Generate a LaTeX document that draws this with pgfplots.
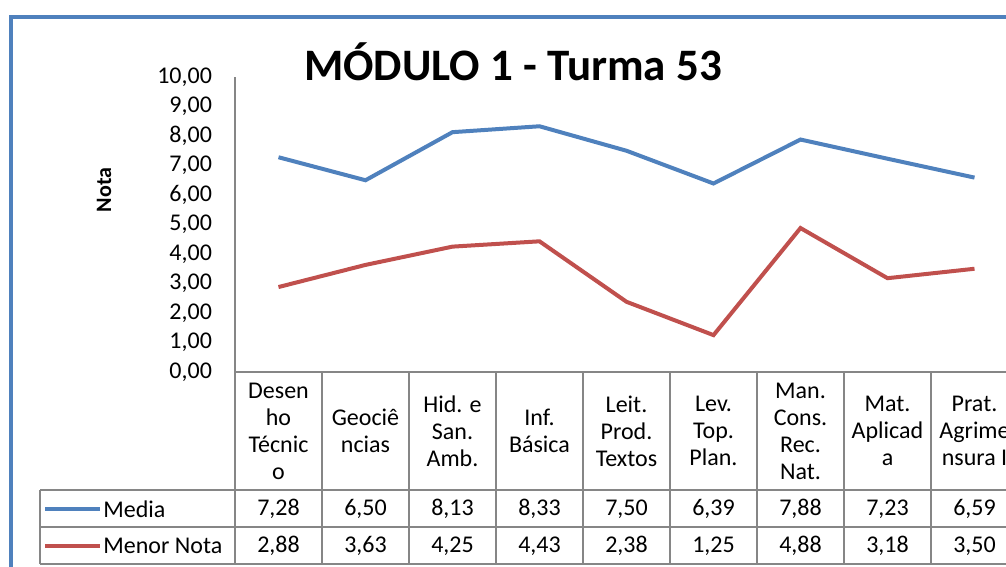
\documentclass[border=0pt]{standalone}
\usepackage{pgfplots}
\pgfplotsset{compat=1.18}
\usepackage{fontspec}
\setmainfont{Carlito}
\definecolor{xblue}{RGB}{79,129,189}
\definecolor{xred}{RGB}{192,80,77}
\definecolor{xgray}{RGB}{134,134,134}
\pgfplotstableread{
x media menor
0 7.28 2.88
1 6.50 3.63
2 8.13 4.25
3 8.33 4.43
4 7.50 2.38
5 6.39 1.25
6 7.88 4.88
7 7.23 3.18
8 6.59 3.50
}\datatab
\begin{document}
\begin{tikzpicture}[x=0.5pt,y=-0.5pt]
\useasboundingbox (0,0) rectangle (1006,567);
\clip (0,0) rectangle (1006,567);
\draw[xblue, line width=2pt] (11,600) -- (11,17) -- (1030,17);
\node[font=\fontsize{22.5}{26}\selectfont\bfseries] at (513,62) {MÓDULO 1 - Turma 53};
\node[font=\fontsize{11}{13}\selectfont\bfseries, rotate=90] at (104,190) {Nota};
\begin{axis}[
  at={(117.5pt,-186pt)}, anchor=south west,
  scale only axis, width=391.5pt, height=147.5pt,
  xmin=-0.5, xmax=8.5, ymin=0, ymax=10,
  axis x line*=bottom, axis y line*=left,
  axis line style={xgray, line width=0.8pt},
  xtick=\empty, ytick={0,1,...,10},
  major tick length=0pt,
  yticklabel style={font=\fontsize{12}{14}\selectfont, xshift=-8pt,
    /pgf/number format/.cd, fixed, fixed zerofill, precision=2, use comma, assume math mode=true},
  clip=false,
]
\addplot[xblue, line width=2pt] table[x=x, y=media] {\datatab};
\addplot[xred, line width=2pt] table[x=x, y=menor] {\datatab};
\end{axis}
% table grid
\begin{scope}[xgray, line width=0.8pt]
\draw (40,490) -- (1030,490);
\draw (40,527) -- (1030,527);
\draw (40,564) -- (1030,564);
\draw (40,490) -- (40,564);
\draw (235,372) -- (235,564);
\foreach \i in {1,...,8} { \draw ({235+87*\i},372) -- ({235+87*\i},564); }
\end{scope}
\draw[xblue, line width=2pt] (45,509) -- (100,509);
\draw[xred, line width=2pt] (45,546) -- (100,546);
\begin{scope}[every node/.style={font=\fontsize{12}{13.5}\selectfont, align=center, inner sep=0pt}]
\node[anchor=west] at (103,509) {Media};
\node[anchor=west] at (103,546) {Menor Nota};
\foreach \t [count=\i from 0] in {Desen\\ho\\Técnic\\o, Geociê\\ncias, Hid. e\\San.\\Amb., Inf.\\Básica, Leit.\\Prod.\\Textos, Lev.\\Top.\\Plan., Man.\\Cons.\\Rec.\\Nat., Mat.\\Aplicad\\a, Prat.\\Agrime\\nsura I}
  { \node at ({278.5+87*\i},431) {\t}; }
\foreach \v [count=\i from 0] in {7,28, 6,50, 8,13, 8,33, 7,50, 6,39, 7,88, 7,23, 6,59}
  {}
\end{scope}
\begin{scope}[every node/.style={font=\fontsize{12}{13.5}\selectfont, inner sep=0pt}]
\node at (278.5,509) {7,28}; \node at (365.5,509) {6,50}; \node at (452.5,509) {8,13};
\node at (539.5,509) {8,33}; \node at (626.5,509) {7,50}; \node at (713.5,509) {6,39};
\node at (800.5,509) {7,88}; \node at (887.5,509) {7,23}; \node at (974.5,509) {6,59};
\node at (278.5,546) {2,88}; \node at (365.5,546) {3,63}; \node at (452.5,546) {4,25};
\node at (539.5,546) {4,43}; \node at (626.5,546) {2,38}; \node at (713.5,546) {1,25};
\node at (800.5,546) {4,88}; \node at (887.5,546) {3,18}; \node at (974.5,546) {3,50};
\end{scope}
\end{tikzpicture}
\end{document}
